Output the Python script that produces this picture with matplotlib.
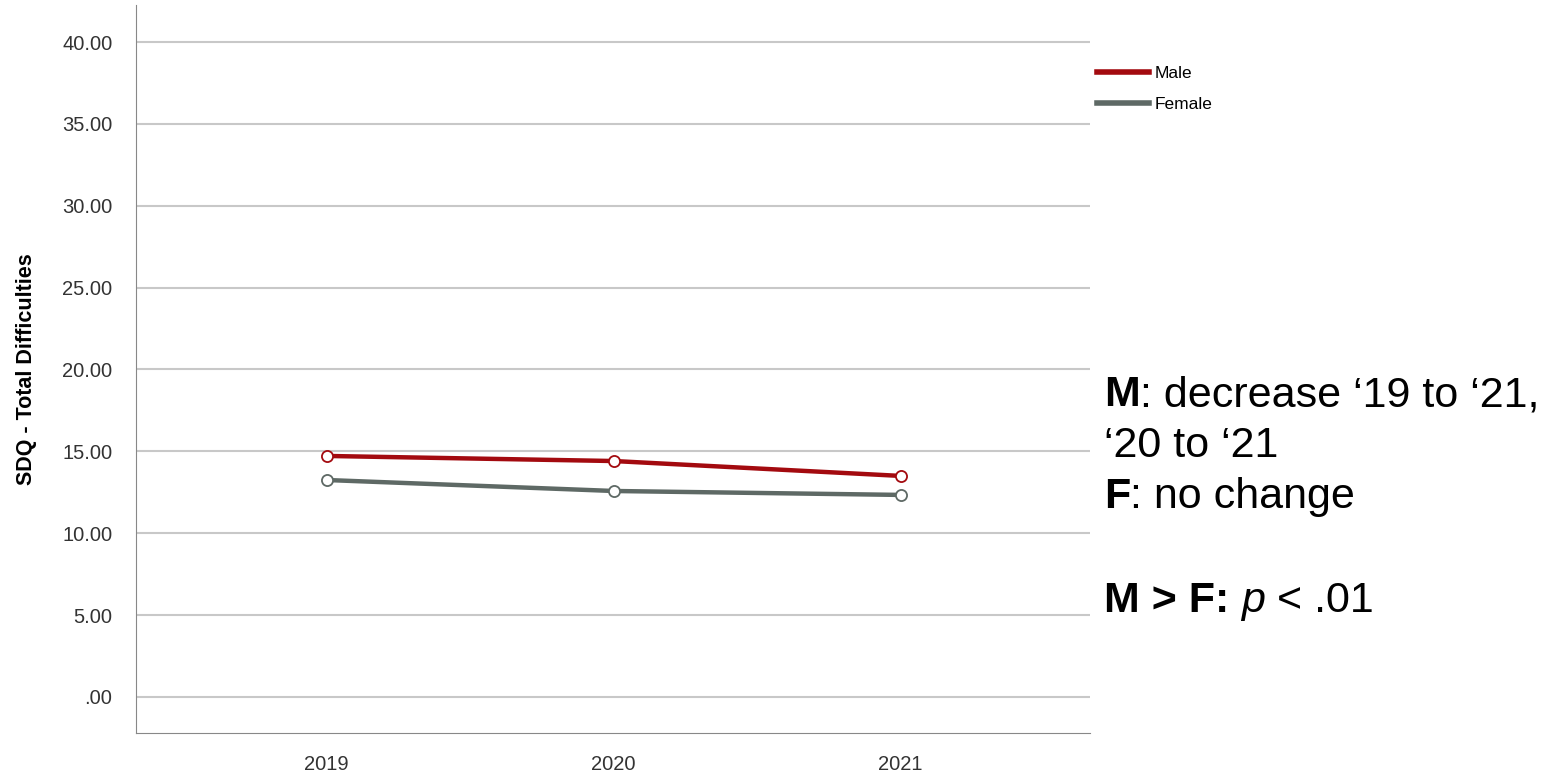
import matplotlib.pyplot as plt
import numpy as np

years = ['2019', '2020', '2021']
male = [14.72, 14.41, 13.50]
female = [13.25, 12.58, 12.34]
y_ticks = [0, 5, 10, 15, 20, 25, 30, 35, 40]
y_tick_labels = ['.00', '5.00', '10.00', '15.00', '20.00', '25.00', '30.00', '35.00', '40.00']

plt.rcParams['font.family'] = ['Liberation Sans', 'DejaVu Sans']

fig = plt.figure(figsize=(15.52, 7.76), dpi=100)
# axes box in pixels: left 136, right 1090, top 5, bottom 733
ax = fig.add_axes([136 / 1552, (776 - 733) / 776, (1090 - 136) / 1552, (733 - 5) / 776])

x = np.arange(len(years))
ax.plot(x, male, color='#a30a0f', linewidth=3.2, marker='o', markersize=8,
        markerfacecolor='white', markeredgecolor='#a30a0f', markeredgewidth=1.3, zorder=3)
ax.plot(x, female, color='#5e6965', linewidth=3.2, marker='o', markersize=8,
        markerfacecolor='white', markeredgecolor='#5e6965', markeredgewidth=1.3, zorder=3)

ax.set_xlim(-0.665, 2.66)
ax.set_ylim(-2.2, 42.26)
ax.set_xticks(x)
ax.set_xticklabels(years, fontsize=14.5, color='#333333')
ax.set_yticks(y_ticks)
ax.set_yticklabels(y_tick_labels, fontsize=14.5, color='#333333')
ax.tick_params(axis='x', length=0, pad=16)
ax.tick_params(axis='y', length=0, pad=17)

ax.grid(True, axis='y', color='#c8c8c8', linewidth=1.5)
ax.set_axisbelow(True)
ax.spines['top'].set_visible(False)
ax.spines['right'].set_visible(False)
ax.spines['left'].set_color('#888888')
ax.spines['bottom'].set_color('#888888')

ax.set_ylabel('SDQ - Total Difficulties', fontsize=15.5, fontweight='bold', labelpad=18)

# legend without markers
h_male = plt.Line2D([], [], color='#a30a0f', linewidth=4)
h_female = plt.Line2D([], [], color='#5e6965', linewidth=4)
fig.legend([h_male, h_female], ['Male', 'Female'], loc='upper left',
           bbox_to_anchor=(1097 / 1552, 1 - 66 / 776),
           frameon=False, fontsize=12.5, handlelength=3.0, handletextpad=0.3,
           labelspacing=0.9, borderaxespad=0, borderpad=0)

fs = 31
tx = 1104 / 1552


def chain(y_px, parts):
    # each piece is placed right after the previous one on the same baseline
    t0 = fig.text(tx, 1 - y_px / 776, parts[0][0], fontsize=fs, fontweight=parts[0][1],
                  fontstyle=parts[0][2], va='baseline')
    prev = t0
    for txt, w, st in parts[1:]:
        prev = ax.annotate(txt, xy=(1, 0), xycoords=prev, xytext=(0, 0),
                           textcoords='offset points', fontsize=fs, fontweight=w,
                           fontstyle=st, va='bottom', annotation_clip=False)
    return t0


chain(406, [('M', 'bold', 'normal'), (': decrease ‘19 to ‘21,', 'normal', 'normal')])
chain(457, [('‘20 to ‘21', 'normal', 'normal')])
chain(508, [('F', 'bold', 'normal'), (': no change', 'normal', 'normal')])
chain(612, [('M > F: ', 'bold', 'normal'), ('p', 'normal', 'italic'), (' < .01', 'normal', 'normal')])

fig.savefig('out.png', dpi=100)
